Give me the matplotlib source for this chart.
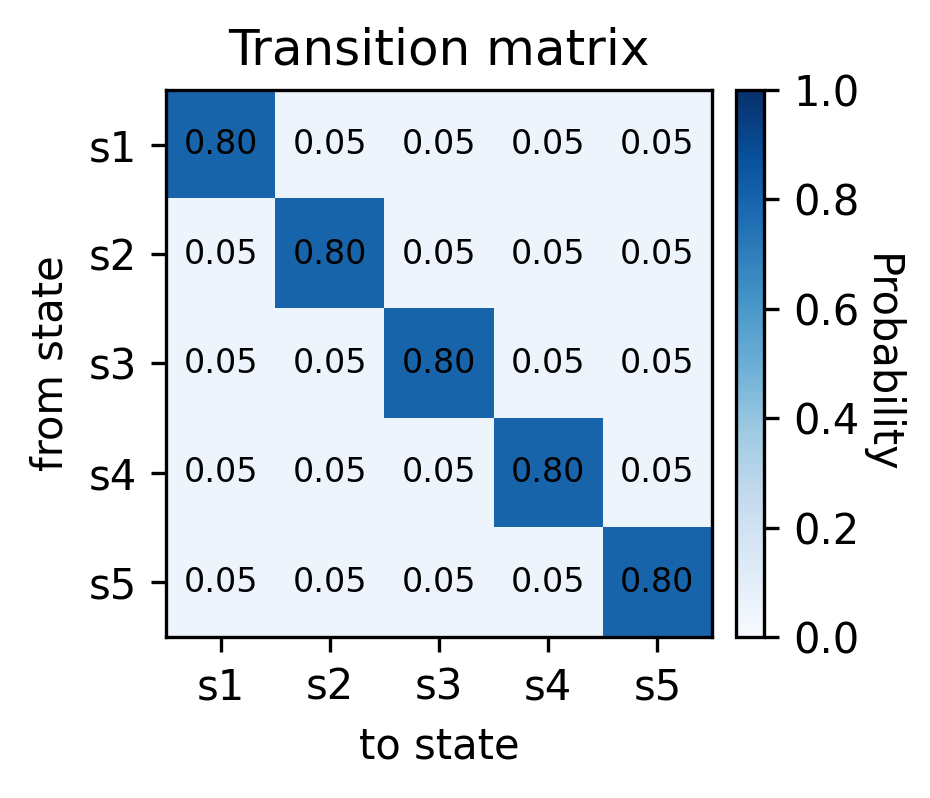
import numpy as np
import matplotlib
matplotlib.use('Agg')
import matplotlib.pyplot as plt

# Estados y matriz de transicion
states = ['s1', 's2', 's3', 's4', 's5']
P = np.array([
    [0.80, 0.05, 0.05, 0.05, 0.05],
    [0.05, 0.80, 0.05, 0.05, 0.05],
    [0.05, 0.05, 0.80, 0.05, 0.05],
    [0.05, 0.05, 0.05, 0.80, 0.05],
    [0.05, 0.05, 0.05, 0.05, 0.80],
])

fig = plt.figure(figsize=(3.1, 2.66), dpi=300)
ax = fig.add_axes([0.1785, 0.2015, 0.587, 0.686])
cax = fig.add_axes([0.791, 0.2015, 0.031, 0.686])

im = ax.imshow(P, cmap='Blues', vmin=0, vmax=1, aspect='auto')

ax.set_xticks(range(len(states)))
ax.set_yticks(range(len(states)))
ax.set_xticklabels(states)
ax.set_yticklabels(states)
ax.set_xlabel('to state')
ax.set_ylabel('from state')
ax.set_title('Transition matrix', fontsize=12)

# Anotar cada celda
for i in range(P.shape[0]):
    for j in range(P.shape[1]):
        ax.text(j, i, f'{P[i, j]:.2f}', ha='center', va='center', fontsize=8, color='black')

cbar = fig.colorbar(im, cax=cax)
cbar.set_label('Probability', rotation=270, labelpad=10)

fig.savefig('out.png', dpi=300)
